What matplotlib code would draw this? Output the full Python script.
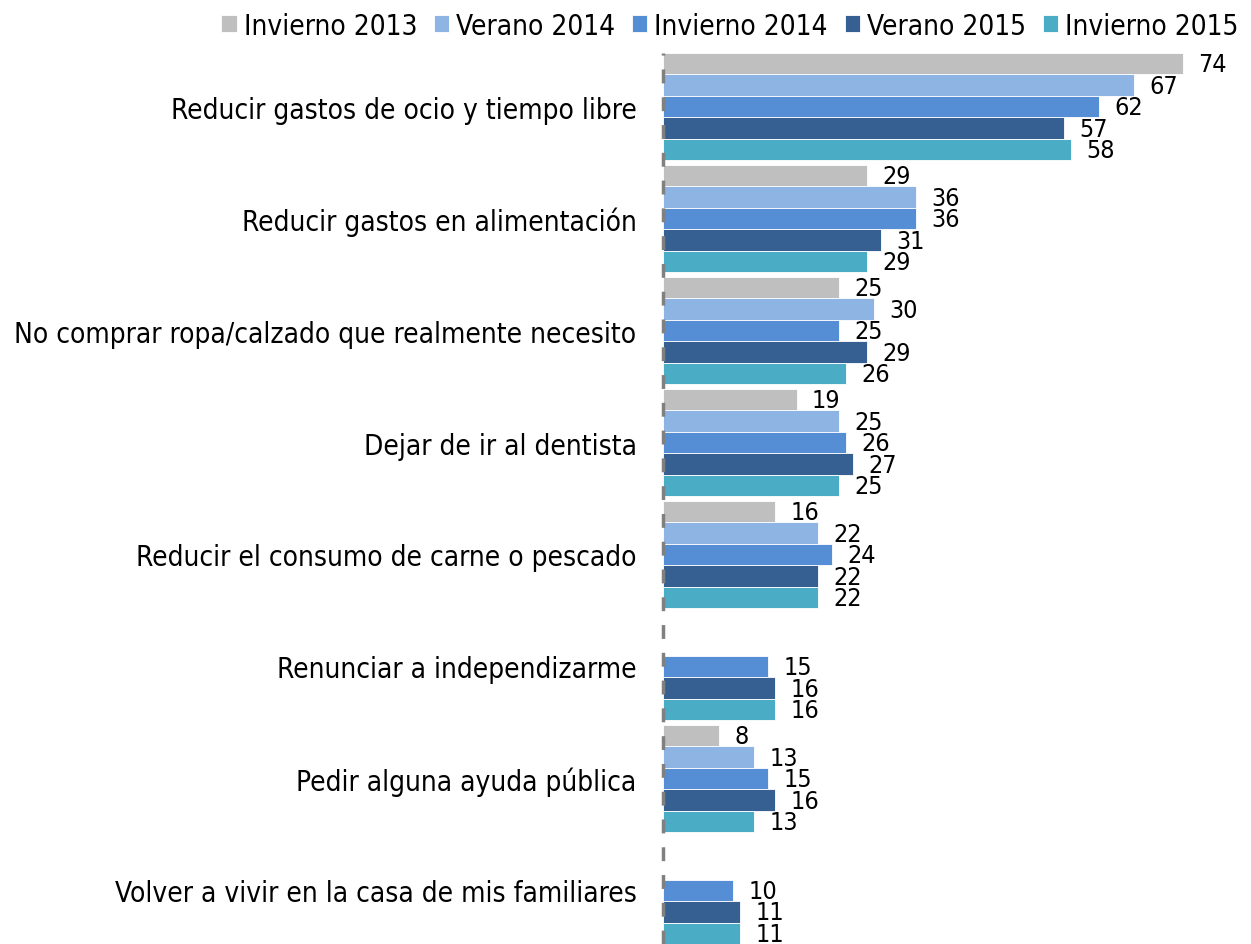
import matplotlib
matplotlib.use("Agg")
import matplotlib.pyplot as plt
import numpy as np

categories = [
    "Reducir gastos de ocio y tiempo libre",
    "Reducir gastos en alimentación",
    "No comprar ropa/calzado que realmente necesito",
    "Dejar de ir al dentista",
    "Reducir el consumo de carne o pescado",
    "Renunciar a independizarme",
    "Pedir alguna ayuda pública",
    "Volver a vivir en la casa de mis familiares",
]
series_names = ["Invierno 2013", "Verano 2014", "Invierno 2014", "Verano 2015", "Invierno 2015"]
invierno_2013 = [74, 29, 25, 19, 16, None, 8, None]
verano_2014 = [67, 36, 30, 25, 22, None, 13, None]
invierno_2014 = [62, 36, 25, 26, 24, 15, 15, 10]
verano_2015 = [57, 31, 29, 27, 22, 16, 16, 11]
invierno_2015 = [58, 29, 26, 25, 22, 16, 13, 11]
colors = ["#BFBFBF", "#8EB4E3", "#558ED5", "#376092", "#4BACC6"]

all_series = [invierno_2013, verano_2014, invierno_2014, verano_2015, invierno_2015]

plt.rcParams['font.family'] = ['DejaVu Sans']
plt.rcParams['font.stretch'] = 'condensed'
FS = 20.1
VFS = 18

fig = plt.figure(figsize=(12.51, 9.45), dpi=100)
ax = fig.add_axes([663/1251, 0.0, (1245-663)/1251, 1 - 54/945])

bh = 0.192
y = np.arange(len(categories))
for k, (vals, name, c) in enumerate(zip(all_series, series_names, colors)):
    pos = y - 2*bh + k*bh
    v = np.array([np.nan if x is None else x for x in vals], dtype=float)
    ax.barh(pos, np.nan_to_num(v), height=bh, color=c, label=name,
            edgecolor='white', linewidth=0.6)
    for p, val in zip(pos, v):
        if not np.isnan(val):
            ax.annotate(f"{int(val)}", (val, p), xytext=(11, -0.5), textcoords='offset points',
                        ha='left', va='center', fontsize=VFS, color='black')

ax.set_xlim(0, (1245-663)/7.03)
ax.set_ylim(len(categories) - 0.52, -0.48)
ax.set_yticks(y)
ax.set_yticklabels(categories, fontsize=FS)
ax.tick_params(axis='y', length=0, pad=19)
ax.set_xticks([])
for s in ['top', 'right', 'bottom', 'left']:
    ax.spines[s].set_visible(False)
ax.axvline(0, color='#808080', linewidth=2.5, linestyle=(0, (4, 4)), zorder=3, clip_on=False)

leg = fig.legend(loc='upper right', bbox_to_anchor=(1.0, 1.0), ncol=5, frameon=False,
                 fontsize=FS, handlelength=0.55, handleheight=0.55, handletextpad=0.25,
                 columnspacing=0.6, borderaxespad=0.05)

fig.savefig("out.png", dpi=100)
